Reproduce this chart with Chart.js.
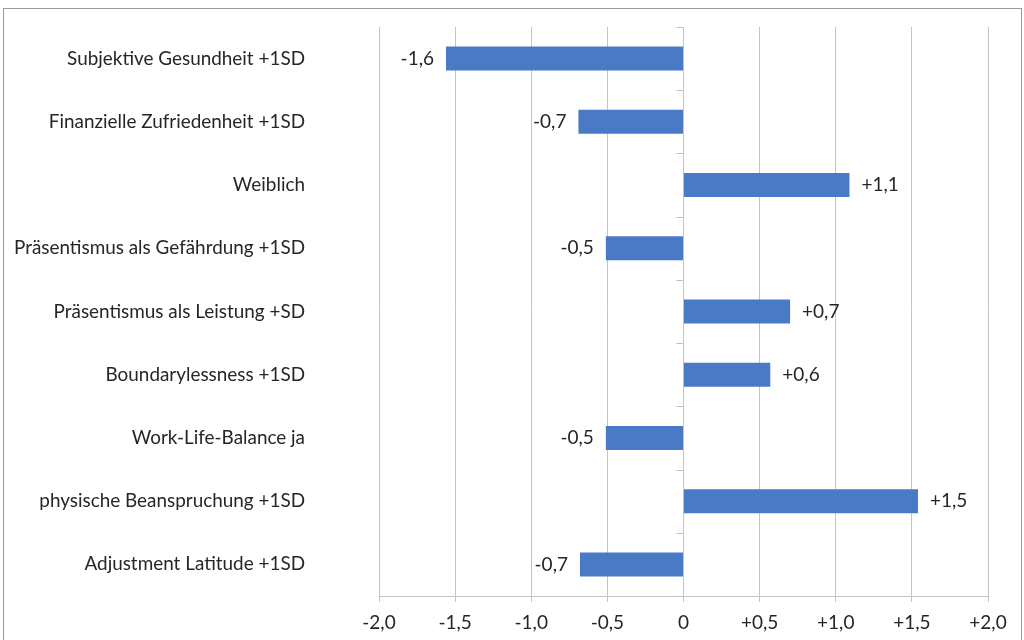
<!DOCTYPE html>
<html>
<head>
<meta charset="utf-8">
<script src="https://cdn.jsdelivr.net/npm/chart.js@4/dist/chart.umd.min.js"></script>
<style>
  html, body { margin: 0; padding: 0; background: #fff; overflow: hidden; }
  #frame { position: absolute; left: 3px; top: 8px; width: 1017px; height: 650px; border: 1px solid #9a9a9a; border-bottom: none; }
  #wrap { position: absolute; left: 0; top: 0; width: 1024px; height: 640px; }
</style>
</head>
<body>
<div id="frame"></div>
<div id="wrap"><canvas id="chart"></canvas></div>
<script>
// Effect sizes per predictor
const categories = [
    'Subjektive Gesundheit +1SD',
    'Finanzielle Zufriedenheit +1SD',
    'Weiblich',
    'Präsentismus als Gefährdung +1SD',
    'Präsentismus als Leistung +SD',
    'Boundarylessness +1SD',
    'Work-Life-Balance ja',
    'physische Beanspruchung +1SD',
    'Adjustment Latitude +1SD'
];
const values = [-1.56, -0.69, 1.09, -0.51, 0.70, 0.57, -0.51, 1.54, -0.68];
const valueLabels = ['-1,6', '-0,7', '+1,1', '-0,5', '+0,7', '+0,6', '-0,5', '+1,5', '-0,7'];
const xTickLabels = ['-2,0', '-1,5', '-1,0', '-0,5', '0', '+0,5', '+1,0', '+1,5', '+2,0'];

const FONT = 'Lato, sans-serif';

// value labels next to the bar ends
const barLabels = {
    id: 'barLabels',
    afterDatasetsDraw(chart) {
        const ctx = chart.ctx;
        const meta = chart.getDatasetMeta(0);
        ctx.save();
        ctx.font = '19px ' + FONT;
        ctx.fillStyle = '#262626';
        ctx.textBaseline = 'middle';
        meta.data.forEach((bar, i) => {
            if (values[i] < 0) {
                ctx.textAlign = 'right';
                ctx.fillText(valueLabels[i], bar.x - 12, bar.y);
            } else {
                ctx.textAlign = 'left';
                ctx.fillText(valueLabels[i], bar.x + 12, bar.y);
            }
        });
        ctx.restore();
    }
};

// small category ticks on the zero line
const zeroTicks = {
    id: 'zeroTicks',
    afterDraw(chart) {
        const ctx = chart.ctx;
        const x0 = chart.scales.x.getPixelForValue(0);
        const y = chart.scales.y;
        ctx.save();
        ctx.strokeStyle = '#bfbfbf';
        ctx.lineWidth = 1;
        for (let i = 0; i <= categories.length; i++) {
            const py = Math.round(y.getPixelForValue(i - 0.5)) + 0.5;
            ctx.beginPath();
            ctx.moveTo(x0 - 7, py);
            ctx.lineTo(x0, py);
            ctx.stroke();
        }
        ctx.restore();
    }
};

new Chart(document.getElementById('chart'), {
    type: 'bar',
    data: {
        labels: categories,
        datasets: [{
            data: values,
            backgroundColor: '#4a7ac6',
            borderWidth: 0,
            barPercentage: 0.38,
            categoryPercentage: 1.0
        }]
    },
    plugins: [barLabels, zeroTicks],
    options: {
        indexAxis: 'y',
        responsive: true,
        maintainAspectRatio: false,
        animation: false,
        devicePixelRatio: 1,
        layout: { padding: { top: 27, right: 36, bottom: 0, left: 0 } },
        plugins: {
            legend: { display: false },
            tooltip: { enabled: false }
        },
        scales: {
            x: {
                min: -2,
                max: 2,
                afterFit(scale) { scale.height = 44; },
                grid: {
                    color: '#c4c4c4',
                    tickLength: 6,
                    tickColor: '#c4c4c4'
                },
                border: { color: '#c4c4c4' },
                ticks: {
                    stepSize: 0.5,
                    callback: (v, i) => xTickLabels[i],
                    color: '#262626',
                    font: { family: FONT, size: 19 },
                    padding: 9,
                    maxRotation: 0,
                    autoSkip: false
                }
            },
            y: {
                afterFit(scale) {
                    scale.width = 379;
                    scale.paddingTop = 0;
                    scale.paddingBottom = 0;
                },
                grid: { display: false, drawTicks: false },
                border: { display: false },
                ticks: {
                    color: '#262626',
                    font: { family: FONT, size: 18.9 },
                    padding: 74
                }
            }
        }
    }
});
</script>
</body>
</html>
